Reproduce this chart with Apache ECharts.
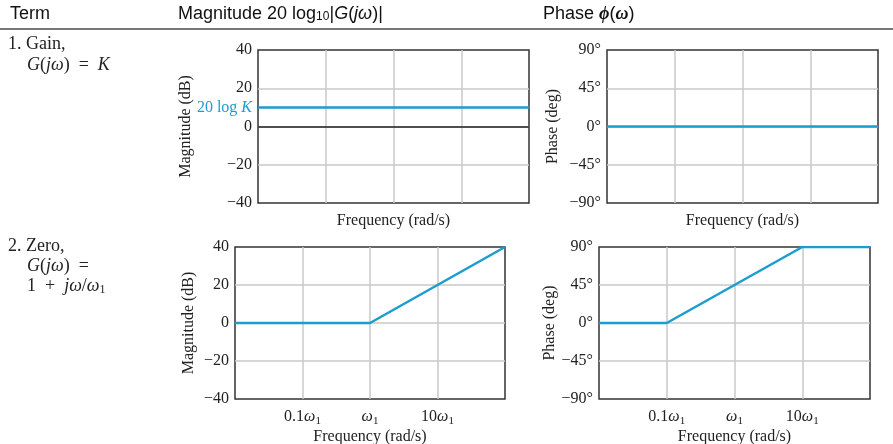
<!DOCTYPE html>
<html>
<head>
<meta charset="utf-8">
<script src="https://cdn.jsdelivr.net/npm/echarts@6/dist/echarts.min.js"></script>
<style>
  html, body { margin: 0; padding: 0; background: #fff; }
  #main { width: 893px; height: 444px; }
</style>
</head>
<body>
<div id="main"></div>
<script>
// frequency in units of w1 (log scale, 0.01 .. 100)
const freqMin = 0.01;
const freqMax = 100;
const freqTickLabels = { '-1': '0.1{w|ω}{s|1}', '0': '{w|ω}{s|1}', '1': '10{w|ω}{s|1}' };

// 1. gain term
const gainFreq = [0.01, 100];
const gainMag = [10, 10];
const gainPhase = [0, 0];

// 2. zero term (asymptotes)
const zeroMagFreq = [0.01, 1, 100];
const zeroMag = [0, 0, 40];
const zeroPhaseFreq = [0.01, 0.1, 10, 100];
const zeroPhase = [0, 0, 90, 90];

const magTicks = [-40, 40, 20];   // min, max, step
const phaseTicks = [-90, 90, 45];

const blue = '#1b9dcf';
const serif = '"Liberation Serif", "DejaVu Serif", serif';
const sans = '"Liberation Sans", Arial, sans-serif';

function pairs(xs, ys) {
  return xs.map((x, i) => [x, ys[i]]);
}

let myChart = echarts.init(document.getElementById('main'), null, { renderer: 'canvas' });

const grids = [
  { left: 258, top: 50, width: 271, height: 153 },
  { left: 607, top: 50, width: 271, height: 153 },
  { left: 235, top: 247, width: 270, height: 152 },
  { left: 599, top: 247, width: 271, height: 152 }
].map(g => Object.assign(g, {
  show: true, borderColor: '#333', borderWidth: 1.5, backgroundColor: 'transparent',
  containLabel: false, outerBoundsMode: 'none'
}));

function xAxisFor(idx, withLabels) {
  return {
    type: 'log', logBase: 10, gridIndex: idx, min: freqMin, max: freqMax, splitNumber: 4,
    name: 'Frequency (rad/s)', nameLocation: 'middle', nameGap: withLabels ? 30 : 10,
    nameTextStyle: { fontFamily: serif, fontSize: 16, color: '#222' },
    axisLine: { show: false }, axisTick: { show: false },
    splitLine: { show: true, showMinLine: false, showMaxLine: false, lineStyle: { color: '#c8c8c8', width: 1.5 } },
    axisLabel: {
      show: withLabels, margin: 8, fontFamily: serif, fontSize: 16, color: '#222', lineHeight: 20,
      formatter: function (v) {
        let k = String(Math.round(Math.log10(v)));
        return freqTickLabels[k] || '';
      },
      rich: {
        w: { fontStyle: 'italic', fontFamily: serif, fontSize: 16, lineHeight: 20, verticalAlign: 'middle' },
        s: { fontFamily: serif, fontSize: 11, lineHeight: 10, verticalAlign: 'bottom' }
      }
    }
  };
}

function yAxisFor(idx, ticks, name, gap, deg) {
  return {
    type: 'value', gridIndex: idx, min: ticks[0], max: ticks[1], interval: ticks[2],
    name: name, nameLocation: 'middle', nameGap: gap,
    nameTextStyle: { fontFamily: serif, fontSize: 16, color: '#222' },
    axisLine: { show: false }, axisTick: { show: false },
    splitLine: { show: true, showMinLine: false, showMaxLine: false, lineStyle: { color: '#c8c8c8', width: 1.5 } },
    axisLabel: {
      margin: 6, fontFamily: serif, fontSize: 16, color: '#222',
      formatter: v => String(v).replace('-', '−') + (deg ? '°' : '')
    }
  };
}

const lineBase = { type: 'line', symbol: 'none', silent: true, animation: false, lineStyle: { color: blue, width: 2.5 } };

myChart.setOption({
  animation: false,
  grid: grids,
  xAxis: [xAxisFor(0, false), xAxisFor(1, false), xAxisFor(2, true), xAxisFor(3, true)],
  yAxis: [
    yAxisFor(0, magTicks, 'Magnitude (dB)', 64),
    yAxisFor(1, phaseTicks, 'Phase (deg)', 46, true),
    yAxisFor(2, magTicks, 'Magnitude (dB)', 38),
    yAxisFor(3, phaseTicks, 'Phase (deg)', 38, true)
  ],
  series: [
    Object.assign({}, lineBase, {
      xAxisIndex: 0, yAxisIndex: 0, data: pairs(gainFreq, gainMag), z: 3,
      markLine: {
        silent: true, symbol: 'none', label: { show: false }, z: 2,
        lineStyle: { color: '#222', type: 'solid', width: 1.5 },
        data: [{ yAxis: 0 }]
      },
      // "20 log K" tag at the left end of the gain line
      markPoint: {
        silent: true, symbol: 'circle', symbolSize: 0,
        data: [{ coord: [gainFreq[0], gainMag[0]] }],
        label: {
          show: true, position: 'left', distance: 6, formatter: '20 log {i|K}',
          fontFamily: serif, fontSize: 16, color: blue,
          rich: { i: { fontStyle: 'italic', fontFamily: serif, fontSize: 16, color: blue } }
        }
      }
    }),
    Object.assign({}, lineBase, { xAxisIndex: 1, yAxisIndex: 1, data: pairs(gainFreq, gainPhase) }),
    Object.assign({}, lineBase, { xAxisIndex: 2, yAxisIndex: 2, data: pairs(zeroMagFreq, zeroMag) }),
    Object.assign({}, lineBase, { xAxisIndex: 3, yAxisIndex: 3, data: pairs(zeroPhaseFreq, zeroPhase) })
  ],
  graphic: [
    // table header
    { type: 'text', left: 10, top: 5, style: { text: 'Term', font: '18px ' + sans, fill: '#111' } },
    {
      type: 'text', left: 178, top: 5,
      style: {
        text: 'Magnitude 20 log{sub|10}|{i|G}({i|jω})|', font: '18px ' + sans, fill: '#111',
        rich: {
          sub: { font: '12px ' + sans, lineHeight: 10, verticalAlign: 'bottom', fill: '#111' },
          i: { font: 'italic 18px ' + sans, fill: '#111' }
        }
      }
    },
    {
      type: 'text', left: 543, top: 5,
      style: {
        text: 'Phase {i|ϕ}({i|ω})', font: '18px ' + sans, fill: '#111',
        rich: { i: { font: 'italic bold 18px ' + serif, fill: '#111' } }
      }
    },
    { type: 'rect', left: 0, top: 28, shape: { width: 893, height: 2 }, style: { fill: '#777' } },
    // term column
    { type: 'text', left: 8, top: 35, style: { text: '1. Gain,', font: '18px ' + serif, fill: '#222' } },
    {
      type: 'text', left: 27, top: 56,
      style: { text: '{i|G}({i|jω})  =  {i|K}', font: '18px ' + serif, fill: '#222', rich: { i: { font: 'italic 18px ' + serif, fill: '#222' } } }
    },
    { type: 'text', left: 8, top: 237, style: { text: '2. Zero,', font: '18px ' + serif, fill: '#222' } },
    {
      type: 'text', left: 27, top: 257,
      style: { text: '{i|G}({i|jω})  =', font: '18px ' + serif, fill: '#222', rich: { i: { font: 'italic 18px ' + serif, fill: '#222' } } }
    },
    {
      type: 'text', left: 27, top: 277,
      style: {
        text: '1  +  {i|jω}/{i|ω}{s|1}', font: '18px ' + serif, fill: '#222',
        rich: {
          i: { font: 'italic 18px ' + serif, fill: '#222', lineHeight: 20 },
          s: { font: '12px ' + serif, fill: '#222', lineHeight: 10, verticalAlign: 'bottom' }
        }
      }
    }
  ]
});
</script>
</body>
</html>
